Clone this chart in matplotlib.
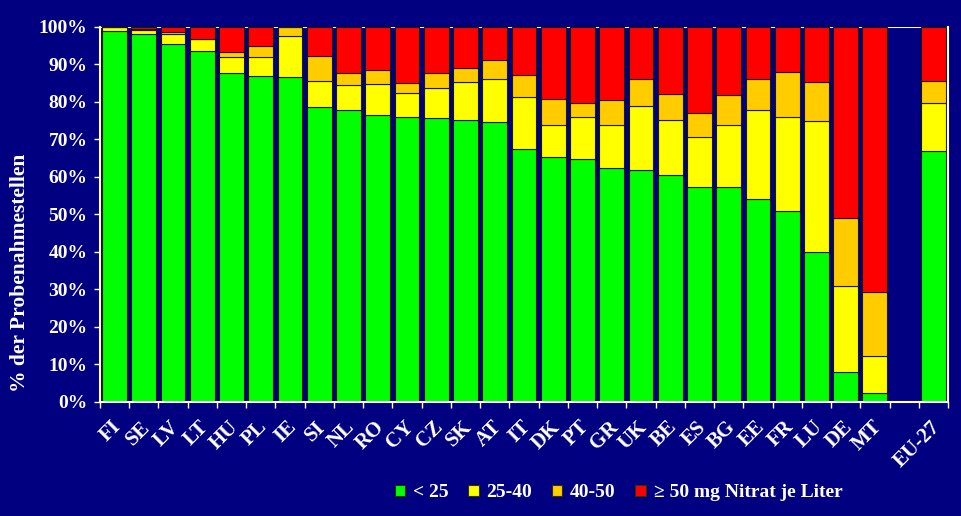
import matplotlib
matplotlib.use("Agg")
import matplotlib.pyplot as plt
from matplotlib.patches import Patch

plt.rcParams['font.family'] = ['Liberation Serif', 'DejaVu Serif']
plt.rcParams['font.weight'] = 'bold'

# data: share of sampling points per nitrate class (%)
laender = ['FI', 'SE', 'LV', 'LT', 'HU', 'PL', 'IE', 'SI', 'NL', 'RO', 'CY', 'CZ', 'SK', 'AT',
           'IT', 'DK', 'PT', 'GR', 'UK', 'BE', 'ES', 'BG', 'EE', 'FR', 'LU', 'DE', 'MT', '', 'EU-27']
unter_25 = [98.8, 98.2, 95.5, 93.6, 87.6, 86.9, 86.7, 78.7, 77.9, 76.5, 75.9, 75.7, 75.1, 74.6,
            67.4, 65.4, 64.8, 62.5, 61.8, 60.4, 57.4, 57.2, 54.1, 50.9, 40.0, 8.0, 2.4, 0, 67.0]
von_25_40 = [1.2, 0.9, 2.6, 3.2, 4.3, 5.2, 10.9, 6.9, 6.5, 8.3, 6.4, 8.1, 10.1, 11.4,
             13.9, 8.4, 11.2, 11.3, 17.2, 14.7, 13.3, 16.7, 23.7, 25.1, 35.0, 22.8, 9.8, 0, 12.7]
von_40_50 = [0, 0.4, 0.6, 0, 1.3, 2.7, 2.4, 6.7, 3.2, 3.6, 2.7, 4.0, 3.8, 5.2,
             6.0, 6.9, 3.7, 6.8, 7.0, 7.0, 6.3, 8.0, 8.4, 12.1, 10.2, 18.2, 17.0, 0, 6.0]
ab_50 = [0, 0.5, 1.3, 3.2, 6.8, 5.2, 0, 7.7, 12.4, 11.6, 15.0, 12.2, 11.0, 8.8,
         12.7, 19.3, 20.3, 19.4, 14.0, 17.9, 23.0, 18.1, 13.8, 11.9, 14.8, 51.0, 70.8, 0, 14.3]

serien = [unter_25, von_25_40, von_40_50, ab_50]
farben = ['#00ff00', '#ffff00', '#ffcc00', '#ff0000']
namen = ['< 25', '25-40', '40-50', '\u2265 50 mg Nitrat je Liter']

navy = '#000080'
fig = plt.figure(figsize=(9.61, 5.16), dpi=100, facecolor=navy)
ax = fig.add_axes([0.104, 0.221, 0.8825, 0.7267])
ax.set_facecolor(navy)

x = list(range(len(laender)))
unten = [0] * len(laender)
for werte, farbe in zip(serien, farben):
    ax.bar(x, werte, bottom=unten, width=0.85, color=farbe,
           edgecolor='#1a1a00', linewidth=0.8, zorder=2)
    unten = [u + w for u, w in zip(unten, werte)]

# 100% line behind the bars
ax.axhline(100, color='white', linewidth=1.5, zorder=0.5)

ax.set_xlim(-0.5, len(laender) - 0.5)
ax.set_ylim(0, 100)

ax.set_yticks(range(0, 101, 10))
ax.set_yticklabels([f'{v}%' for v in range(0, 101, 10)])
ax.set_xticks([i - 0.5 for i in range(len(laender) + 1)])
ax.set_xticklabels([])
ax.tick_params(axis='x', colors='white', length=4, width=1)
ax.tick_params(axis='y', colors='white', length=4, width=1, labelsize=14, pad=5)
for lbl in ax.get_yticklabels():
    lbl.set_color('white')
    lbl.set_fontweight('bold')

for i, name in enumerate(laender):
    if name:
        ax.text(i - 0.12, -4, name, rotation=45, ha='right', va='top',
                rotation_mode='anchor', color='white', fontsize=15,
                fontweight='bold')

for s in ['left', 'bottom', 'right']:
    ax.spines[s].set_color('white')
    ax.spines[s].set_linewidth(1.5)
ax.spines['top'].set_visible(False)

ax.set_ylabel('% der Probenahmestellen', color='white', fontsize=15.5,
              fontweight='bold')
ax.yaxis.set_label_coords(-0.083, 0.344)

handles = [Patch(facecolor=f, edgecolor='#333300', linewidth=0.8) for f in farben]
fig.legend(handles, namen, loc='center', bbox_to_anchor=(0.6436, 0.045), ncol=4,
           frameon=False, labelcolor='white', prop={'size': 14, 'weight': 'bold'},
           handlelength=0.55, handleheight=0.55, handletextpad=0.4, columnspacing=1.0)

fig.savefig('out.png', dpi=100, facecolor=navy)
